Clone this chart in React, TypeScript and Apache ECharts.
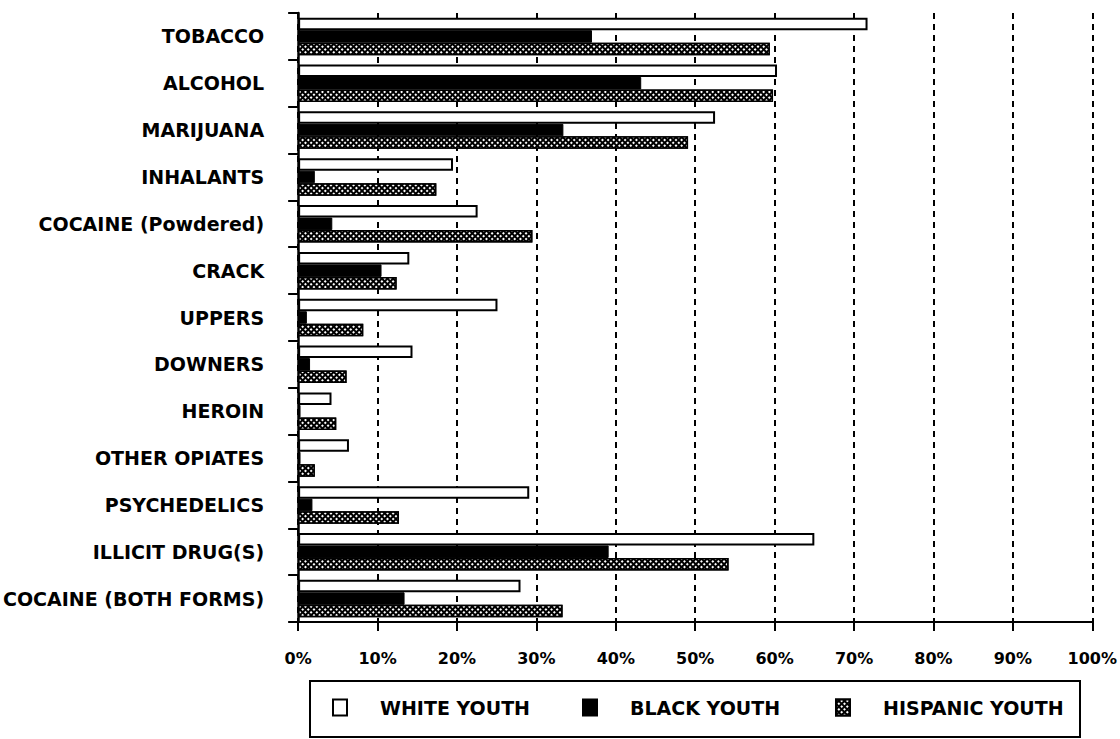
import React, { useEffect, useRef } from "react";
import * as echarts from "echarts";

const categories = [
  "TOBACCO",
  "ALCOHOL",
  "MARIJUANA",
  "INHALANTS",
  "COCAINE (Powdered)",
  "CRACK",
  "UPPERS",
  "DOWNERS",
  "HEROIN",
  "OTHER OPIATES",
  "PSYCHEDELICS",
  "ILLICIT DRUG(S)",
  "COCAINE (BOTH FORMS)",
];

const whiteYouth = [71.7, 60.3, 52.5, 19.5, 22.6, 14.0, 25.1, 14.4, 4.2, 6.4, 29.1, 65.0, 28.0];
const blackYouth = [37.0, 43.2, 33.4, 2.1, 4.3, 10.5, 1.1, 1.5, 0.3, 0.3, 1.8, 39.1, 13.4];
const hispanicYouth = [59.4, 59.8, 49.1, 17.4, 29.5, 12.4, 8.2, 6.1, 4.8, 2.1, 12.7, 54.2, 33.3];

const seriesNames = ["WHITE YOUTH", "BLACK YOUTH", "HISPANIC YOUTH"];
const xTickValues = [0, 10, 20, 30, 40, 50, 60, 70, 80, 90, 100];

const FONT = "DejaVu Sans";

export default function App() {
  const ref = useRef<HTMLDivElement>(null);

  useEffect(() => {
    const chart = echarts.init(ref.current as HTMLDivElement, null, { renderer: "svg" });
    const hatch = {
      symbol: "rect",
      symbolSize: 1,
      color: "#ffffff",
      dashArrayX: [2, 2],
      dashArrayY: [2, 2],
      rotation: Math.PI / 4,
    };
    const legendBase = {
      orient: "horizontal",
      top: 698,
      padding: 0,
      icon: "rect",
      itemWidth: 14,
      itemHeight: 16,
      selectedMode: false,
      textStyle: {
        fontFamily: FONT,
        fontWeight: "bold",
        fontSize: 19,
        color: "#000",
        padding: [0, 0, 0, 28],
      },
    };
    chart.setOption({
      animation: false,
      backgroundColor: "#ffffff",
      textStyle: { fontFamily: FONT },
      grid: { left: 296, right: 26, top: 13, bottom: 117, containLabel: false },
      xAxis: {
        type: "value",
        min: xTickValues[0],
        max: xTickValues[xTickValues.length - 1],
        interval: 10,
        axisLine: { show: true, lineStyle: { color: "#000", width: 2 } },
        axisTick: { show: true, length: 9, lineStyle: { color: "#000", width: 2 } },
        axisLabel: {
          formatter: "{value}%",
          fontFamily: FONT,
          fontWeight: "bold",
          fontSize: 16,
          color: "#000",
          margin: 28,
        },
        splitLine: {
          show: true,
          lineStyle: { color: "#000", width: 2, type: [6, 5] },
        },
      },
      yAxis: {
        type: "category",
        data: categories,
        inverse: true,
        axisLine: { show: true, lineStyle: { color: "#000", width: 2.5 } },
        axisTick: { show: true, length: 10, lineStyle: { color: "#000", width: 2 } },
        axisLabel: {
          fontFamily: FONT,
          fontWeight: "bold",
          fontSize: 19,
          color: "#000",
          margin: 34,
        },
        splitLine: { show: false },
      },
      legend: [
        { ...legendBase, left: 332, data: [seriesNames[0]] },
        { ...legendBase, left: 582, data: [seriesNames[1]] },
        { ...legendBase, left: 835, data: [seriesNames[2]] },
      ],
      graphic: [
        {
          type: "rect",
          shape: { x: 310, y: 681, width: 770, height: 56 },
          style: { fill: "none", stroke: "#000", lineWidth: 2 },
        },
      ],
      series: [
        {
          name: seriesNames[0],
          type: "bar",
          data: whiteYouth,
          barWidth: 12.5,
          barGap: "0%",
          itemStyle: { color: "#ffffff", borderColor: "#000", borderWidth: 2 },
        },
        {
          name: seriesNames[1],
          type: "bar",
          data: blackYouth,
          barWidth: 12.5,
          barGap: "0%",
          itemStyle: { color: "#000000", borderColor: "#000", borderWidth: 1 },
        },
        {
          name: seriesNames[2],
          type: "bar",
          data: hispanicYouth,
          barWidth: 12.5,
          barGap: "0%",
          itemStyle: { color: "#000000", borderColor: "#000", borderWidth: 1.5, decal: hatch },
        },
      ],
    });
    return () => chart.dispose();
  }, []);

  return (
    <div
      ref={ref}
      style={{ position: "fixed", left: 0, top: 0, width: 1120, height: 739, background: "#fff" }}
    />
  );
}
